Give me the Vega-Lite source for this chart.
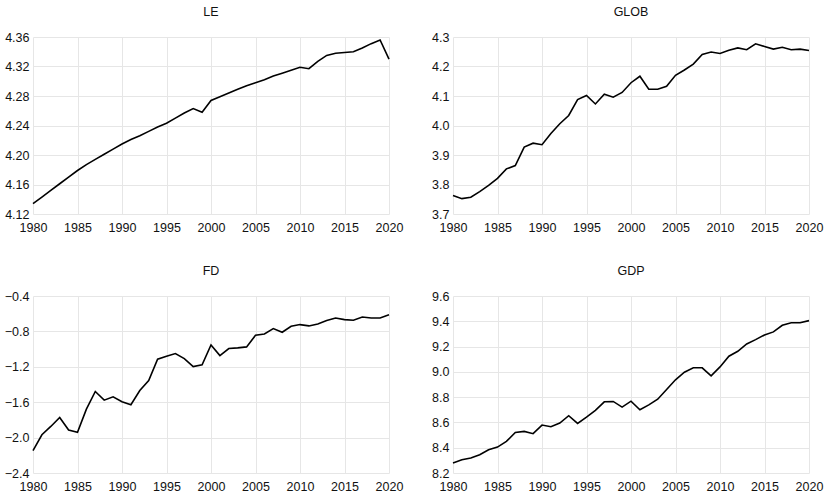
{
  "$schema": "https://vega.github.io/schema/vega-lite/v6.json",
  "background": "white",
  "padding": {"left": 4, "top": 5, "right": 5, "bottom": 5},
  "config": {
    "font": "Liberation Sans",
    "view": {"stroke": null},
    "axis": {
      "domain": false, "ticks": false, "grid": true, "gridColor": "#e6e6e6", "gridWidth": 1,
      "labelFont": "Liberation Sans", "labelFontSize": 12.5, "labelColor": "#111", "title": null,
      "labelFlush": false, "labelOverlap": false
    },
    "title": {"font": "Liberation Sans", "fontSize": 12.5, "fontWeight": "normal", "color": "#111", "offset": 13}
  },
  "datasets": {
    "d": [
      {"year":1980,"s":"LE","v":4.134},{"year":1981,"s":"LE","v":4.143},{"year":1982,"s":"LE","v":4.152},{"year":1983,"s":"LE","v":4.161},{"year":1984,"s":"LE","v":4.170},{"year":1985,"s":"LE","v":4.179},{"year":1986,"s":"LE","v":4.187},{"year":1987,"s":"LE","v":4.194},{"year":1988,"s":"LE","v":4.201},{"year":1989,"s":"LE","v":4.208},{"year":1990,"s":"LE","v":4.215},{"year":1991,"s":"LE","v":4.221},{"year":1992,"s":"LE","v":4.226},{"year":1993,"s":"LE","v":4.232},{"year":1994,"s":"LE","v":4.238},{"year":1995,"s":"LE","v":4.243},{"year":1996,"s":"LE","v":4.250},{"year":1997,"s":"LE","v":4.257},{"year":1998,"s":"LE","v":4.263},{"year":1999,"s":"LE","v":4.258},{"year":2000,"s":"LE","v":4.274},{"year":2001,"s":"LE","v":4.279},{"year":2002,"s":"LE","v":4.284},{"year":2003,"s":"LE","v":4.289},{"year":2004,"s":"LE","v":4.294},{"year":2005,"s":"LE","v":4.298},{"year":2006,"s":"LE","v":4.302},{"year":2007,"s":"LE","v":4.307},{"year":2008,"s":"LE","v":4.311},{"year":2009,"s":"LE","v":4.315},{"year":2010,"s":"LE","v":4.319},{"year":2011,"s":"LE","v":4.317},{"year":2012,"s":"LE","v":4.327},{"year":2013,"s":"LE","v":4.335},{"year":2014,"s":"LE","v":4.338},{"year":2015,"s":"LE","v":4.339},{"year":2016,"s":"LE","v":4.340},{"year":2017,"s":"LE","v":4.345},{"year":2018,"s":"LE","v":4.351},{"year":2019,"s":"LE","v":4.356},{"year":2020,"s":"LE","v":4.330},
      {"year":1980,"s":"GLOB","v":3.763},{"year":1981,"s":"GLOB","v":3.752},{"year":1982,"s":"GLOB","v":3.757},{"year":1983,"s":"GLOB","v":3.776},{"year":1984,"s":"GLOB","v":3.797},{"year":1985,"s":"GLOB","v":3.821},{"year":1986,"s":"GLOB","v":3.853},{"year":1987,"s":"GLOB","v":3.864},{"year":1988,"s":"GLOB","v":3.927},{"year":1989,"s":"GLOB","v":3.940},{"year":1990,"s":"GLOB","v":3.935},{"year":1991,"s":"GLOB","v":3.973},{"year":1992,"s":"GLOB","v":4.006},{"year":1993,"s":"GLOB","v":4.034},{"year":1994,"s":"GLOB","v":4.088},{"year":1995,"s":"GLOB","v":4.102},{"year":1996,"s":"GLOB","v":4.073},{"year":1997,"s":"GLOB","v":4.106},{"year":1998,"s":"GLOB","v":4.096},{"year":1999,"s":"GLOB","v":4.112},{"year":2000,"s":"GLOB","v":4.145},{"year":2001,"s":"GLOB","v":4.167},{"year":2002,"s":"GLOB","v":4.123},{"year":2003,"s":"GLOB","v":4.123},{"year":2004,"s":"GLOB","v":4.133},{"year":2005,"s":"GLOB","v":4.170},{"year":2006,"s":"GLOB","v":4.188},{"year":2007,"s":"GLOB","v":4.208},{"year":2008,"s":"GLOB","v":4.241},{"year":2009,"s":"GLOB","v":4.249},{"year":2010,"s":"GLOB","v":4.244},{"year":2011,"s":"GLOB","v":4.255},{"year":2012,"s":"GLOB","v":4.263},{"year":2013,"s":"GLOB","v":4.257},{"year":2014,"s":"GLOB","v":4.277},{"year":2015,"s":"GLOB","v":4.268},{"year":2016,"s":"GLOB","v":4.259},{"year":2017,"s":"GLOB","v":4.265},{"year":2018,"s":"GLOB","v":4.257},{"year":2019,"s":"GLOB","v":4.259},{"year":2020,"s":"GLOB","v":4.254},
      {"year":1980,"s":"FD","v":-2.148},{"year":1981,"s":"FD","v":-1.968},{"year":1982,"s":"FD","v":-1.874},{"year":1983,"s":"FD","v":-1.772},{"year":1984,"s":"FD","v":-1.915},{"year":1985,"s":"FD","v":-1.941},{"year":1986,"s":"FD","v":-1.678},{"year":1987,"s":"FD","v":-1.479},{"year":1988,"s":"FD","v":-1.577},{"year":1989,"s":"FD","v":-1.539},{"year":1990,"s":"FD","v":-1.595},{"year":1991,"s":"FD","v":-1.629},{"year":1992,"s":"FD","v":-1.468},{"year":1993,"s":"FD","v":-1.355},{"year":1994,"s":"FD","v":-1.114},{"year":1995,"s":"FD","v":-1.080},{"year":1996,"s":"FD","v":-1.050},{"year":1997,"s":"FD","v":-1.107},{"year":1998,"s":"FD","v":-1.197},{"year":1999,"s":"FD","v":-1.178},{"year":2000,"s":"FD","v":-0.953},{"year":2001,"s":"FD","v":-1.073},{"year":2002,"s":"FD","v":-0.994},{"year":2003,"s":"FD","v":-0.986},{"year":2004,"s":"FD","v":-0.975},{"year":2005,"s":"FD","v":-0.844},{"year":2006,"s":"FD","v":-0.829},{"year":2007,"s":"FD","v":-0.768},{"year":2008,"s":"FD","v":-0.810},{"year":2009,"s":"FD","v":-0.742},{"year":2010,"s":"FD","v":-0.723},{"year":2011,"s":"FD","v":-0.738},{"year":2012,"s":"FD","v":-0.716},{"year":2013,"s":"FD","v":-0.678},{"year":2014,"s":"FD","v":-0.648},{"year":2015,"s":"FD","v":-0.667},{"year":2016,"s":"FD","v":-0.674},{"year":2017,"s":"FD","v":-0.637},{"year":2018,"s":"FD","v":-0.648},{"year":2019,"s":"FD","v":-0.648},{"year":2020,"s":"FD","v":-0.611},
      {"year":1980,"s":"GDP","v":8.279},{"year":1981,"s":"GDP","v":8.305},{"year":1982,"s":"GDP","v":8.318},{"year":1983,"s":"GDP","v":8.345},{"year":1984,"s":"GDP","v":8.384},{"year":1985,"s":"GDP","v":8.405},{"year":1986,"s":"GDP","v":8.450},{"year":1987,"s":"GDP","v":8.521},{"year":1988,"s":"GDP","v":8.529},{"year":1989,"s":"GDP","v":8.511},{"year":1990,"s":"GDP","v":8.579},{"year":1991,"s":"GDP","v":8.566},{"year":1992,"s":"GDP","v":8.595},{"year":1993,"s":"GDP","v":8.653},{"year":1994,"s":"GDP","v":8.592},{"year":1995,"s":"GDP","v":8.642},{"year":1996,"s":"GDP","v":8.695},{"year":1997,"s":"GDP","v":8.763},{"year":1998,"s":"GDP","v":8.766},{"year":1999,"s":"GDP","v":8.721},{"year":2000,"s":"GDP","v":8.768},{"year":2001,"s":"GDP","v":8.700},{"year":2002,"s":"GDP","v":8.739},{"year":2003,"s":"GDP","v":8.784},{"year":2004,"s":"GDP","v":8.861},{"year":2005,"s":"GDP","v":8.937},{"year":2006,"s":"GDP","v":8.997},{"year":2007,"s":"GDP","v":9.032},{"year":2008,"s":"GDP","v":9.032},{"year":2009,"s":"GDP","v":8.968},{"year":2010,"s":"GDP","v":9.039},{"year":2011,"s":"GDP","v":9.124},{"year":2012,"s":"GDP","v":9.163},{"year":2013,"s":"GDP","v":9.221},{"year":2014,"s":"GDP","v":9.255},{"year":2015,"s":"GDP","v":9.292},{"year":2016,"s":"GDP","v":9.316},{"year":2017,"s":"GDP","v":9.368},{"year":2018,"s":"GDP","v":9.389},{"year":2019,"s":"GDP","v":9.389},{"year":2020,"s":"GDP","v":9.405}
    ]
  },
  "data": {"name": "d"},
  "columns": 2,
  "spacing": {"column": 28, "row": 30},
  "concat": [
    {
      "title": "LE", "width": 356, "height": 177,
      "transform": [{"filter": "datum.s === 'LE'"}],
      "mark": {"type": "line", "color": "black", "strokeWidth": 1.6},
      "encoding": {
        "x": {"field": "year", "type": "quantitative", "scale": {"domain": [1980, 2020], "nice": false, "zero": false}, "axis": {"values": [1980,1985,1990,1995,2000,2005,2010,2015,2020], "format": "d", "labelPadding": 7}},
        "y": {"field": "v", "type": "quantitative", "scale": {"domain": [4.12, 4.36], "nice": false, "zero": false}, "axis": {"values": [4.12,4.16,4.20,4.24,4.28,4.32,4.36], "format": ".2f", "labelPadding": 4}}
      }
    },
    {
      "title": "GLOB", "width": 356, "height": 177,
      "transform": [{"filter": "datum.s === 'GLOB'"}],
      "mark": {"type": "line", "color": "black", "strokeWidth": 1.6},
      "encoding": {
        "x": {"field": "year", "type": "quantitative", "scale": {"domain": [1980, 2020], "nice": false, "zero": false}, "axis": {"values": [1980,1985,1990,1995,2000,2005,2010,2015,2020], "format": "d", "labelPadding": 7}},
        "y": {"field": "v", "type": "quantitative", "scale": {"domain": [3.7, 4.3], "nice": false, "zero": false}, "axis": {"values": [3.7,3.8,3.9,4.0,4.1,4.2,4.3], "format": ".1f", "labelPadding": 4}}
      }
    },
    {
      "title": "FD", "width": 356, "height": 177,
      "transform": [{"filter": "datum.s === 'FD'"}],
      "mark": {"type": "line", "color": "black", "strokeWidth": 1.6},
      "encoding": {
        "x": {"field": "year", "type": "quantitative", "scale": {"domain": [1980, 2020], "nice": false, "zero": false}, "axis": {"values": [1980,1985,1990,1995,2000,2005,2010,2015,2020], "format": "d", "labelPadding": 7}},
        "y": {"field": "v", "type": "quantitative", "scale": {"domain": [-2.4, -0.4], "nice": false, "zero": false}, "axis": {"values": [-2.4,-2.0,-1.6,-1.2,-0.8,-0.4], "format": ".1f", "labelPadding": 4}}
      }
    },
    {
      "title": "GDP", "width": 356, "height": 177,
      "transform": [{"filter": "datum.s === 'GDP'"}],
      "mark": {"type": "line", "color": "black", "strokeWidth": 1.6},
      "encoding": {
        "x": {"field": "year", "type": "quantitative", "scale": {"domain": [1980, 2020], "nice": false, "zero": false}, "axis": {"values": [1980,1985,1990,1995,2000,2005,2010,2015,2020], "format": "d", "labelPadding": 7}},
        "y": {"field": "v", "type": "quantitative", "scale": {"domain": [8.2, 9.6], "nice": false, "zero": false}, "axis": {"values": [8.2,8.4,8.6,8.8,9.0,9.2,9.4,9.6], "format": ".1f", "labelPadding": 4}}
      }
    }
  ]
}
